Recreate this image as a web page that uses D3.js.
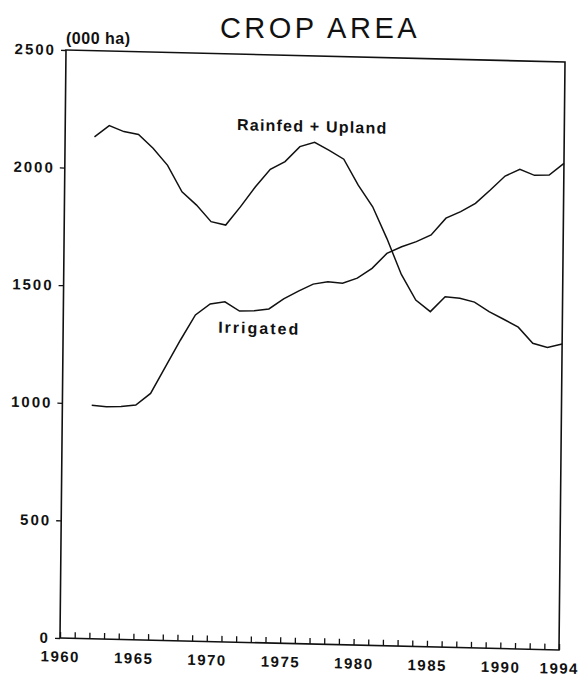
<!DOCTYPE html>
<html>
<head>
<meta charset="utf-8">
<script src="https://cdn.jsdelivr.net/npm/d3@7"></script>
<style>
  body { margin: 0; background: #fff; }
  svg text { font-family: "Liberation Sans", Arial, sans-serif; fill: #111; }
  .tick text { font-size: 15px; font-weight: bold; letter-spacing: 2px; }
  .xAxis .tick text { letter-spacing: 1.5px; }
  .tick line { stroke: #111; stroke-width: 1.3; }
  .seriesLabel { font-size: 16px; font-weight: bold; }
</style>
</head>
<body>
<div id="chart"></div>
<script>
// years 1962..1994, thousand ha
const years = d3.range(1962, 1995);
const rainfed = [2134, 2183, 2159, 2148, 2091, 2020, 1909, 1854, 1785, 1772,
                 1852, 1938, 2014, 2048, 2113, 2133, 2100, 2064, 1955, 1865,
                 1730, 1580, 1473, 1425, 1490, 1485, 1470, 1431, 1400, 1368,
                 1301, 1285, 1301];
const irrigated = [993, 988, 990, 998, 1049, 1164, 1279, 1387, 1435, 1446,
                   1408, 1411, 1420, 1464, 1499, 1530, 1542, 1537, 1560, 1603,
                   1668, 1698, 1721, 1751, 1824, 1853, 1890, 1948, 2009, 2039,
                   2015, 2018, 2069];
const xTickLabels = [1960, 1965, 1970, 1975, 1980, 1985, 1990, 1994];
const yTickValues = [0, 500, 1000, 1500, 2000, 2500];

const width = 579, height = 683;
const plot = { left: 66, top: 50, right: 565, bottom: 638 };

const svg = d3.select("#chart").append("svg")
    .attr("width", width)
    .attr("height", height);

// title and unit sit above the frame
svg.append("text")
    .attr("x", 320).attr("y", 38)
    .attr("text-anchor", "middle")
    .style("font-size", "29px")
    .style("letter-spacing", "3.5px")
    .text("CROP AREA");

svg.append("text")
    .attr("x", 66).attr("y", 44)
    .style("font-size", "16px")
    .style("font-weight", "bold")
    .style("letter-spacing", "0.5px")
    .text("(000 ha)");

// the scanned original is slightly skewed, so the chart group is too
const g = svg.append("g")
    .attr("transform", "matrix(1,0.024,-0.0102,1,0.51,-1.59)");

const x = d3.scaleLinear().domain([1960, 1994]).range([plot.left, plot.right]);
const y = d3.scaleLinear().domain([0, 2500]).range([plot.bottom, plot.top]);

// frame
g.append("rect")
    .attr("x", plot.left).attr("y", plot.top)
    .attr("width", plot.right - plot.left)
    .attr("height", plot.bottom - plot.top)
    .style("fill", "none")
    .style("stroke", "#111")
    .style("stroke-width", 1.6);

let xAxis = d3.axisBottom(x)
    .tickValues(d3.range(1960, 1995))
    .tickSize(-6)
    .tickPadding(13)
    .tickFormat(d => xTickLabels.includes(d) ? d : "");
g.append("g")
    .attr("class", "xAxis")
    .attr("transform", "translate(0," + plot.bottom + ")")
    .call(xAxis)
    .call(a => a.select(".domain").remove());

let yAxis = d3.axisLeft(y)
    .tickValues(yTickValues)
    .tickSize(5)
    .tickPadding(5)
    .tickFormat(d => d);
g.append("g")
    .attr("class", "yAxis")
    .attr("transform", "translate(" + plot.left + ",0)")
    .call(yAxis)
    .call(a => a.select(".domain").remove());

const line = d3.line()
    .x((d, i) => x(years[i]))
    .y(d => y(d));

[rainfed, irrigated].forEach(s => {
    g.append("path")
        .datum(s)
        .attr("d", line)
        .style("fill", "none")
        .style("stroke", "#111")
        .style("stroke-width", 1.5);
});

g.append("text")
    .attr("class", "seriesLabel")
    .attr("x", 313).attr("y", 126)
    .attr("text-anchor", "middle")
    .style("letter-spacing", "1.2px")
    .text("Rainfed + Upland");

g.append("text")
    .attr("class", "seriesLabel")
    .attr("x", 221).attr("y", 329)
    .style("letter-spacing", "2px")
    .text("Irrigated");
</script>
</body>
</html>
